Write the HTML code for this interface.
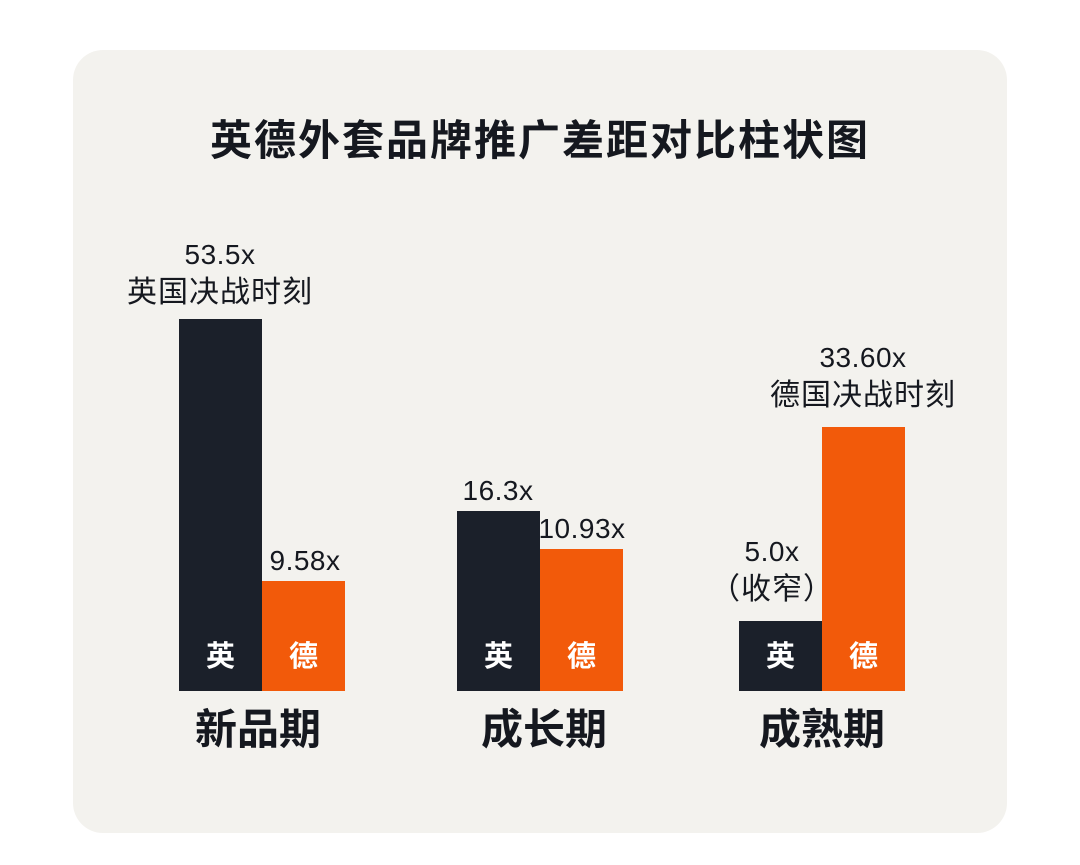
<!DOCTYPE html>
<html><head><meta charset="utf-8"><style>
body{margin:0;width:1080px;height:865px;background:#fff;position:relative;overflow:hidden;font-family:"Liberation Sans","Noto Sans CJK SC",sans-serif;}
.card{position:absolute;left:73px;top:50px;width:934px;height:783px;background:#f3f2ee;border-radius:30px;}
.t{position:absolute;text-align:center;white-space:nowrap;color:#15181f;}
.bar{position:absolute;}
.d{background:#1b202a}.o{background:#f25a0a}
.in{position:absolute;width:83px;text-align:center;color:#fff;font-weight:bold;font-size:29px;top:637px;line-height:40px;}
.v{font-size:28px;line-height:38px;letter-spacing:0.5px;}
.v span{font-size:30px;letter-spacing:1px;}
.cat{font-size:42px;font-weight:bold;top:704px;line-height:52px;}
</style></head><body>
<div class="card"></div>
<div class="t" style="left:0;width:1080px;top:113px;font-size:42px;font-weight:bold;line-height:56px;letter-spacing:2px;">英德外套品牌推广差距对比柱状图</div>

<div class="bar d" style="left:179px;top:319px;width:83px;height:372px"></div>
<div class="bar o" style="left:262px;top:581px;width:83px;height:110px"></div>
<div class="bar d" style="left:457px;top:511px;width:83px;height:180px"></div>
<div class="bar o" style="left:540px;top:549px;width:83px;height:142px"></div>
<div class="bar d" style="left:739px;top:621px;width:83px;height:70px"></div>
<div class="bar o" style="left:822px;top:427px;width:83px;height:264px"></div>

<div class="in" style="left:179px">英</div><div class="in" style="left:262px">德</div>
<div class="in" style="left:457px">英</div><div class="in" style="left:540px">德</div>
<div class="in" style="left:739px">英</div><div class="in" style="left:822px">德</div>

<div class="t v" style="left:120px;width:200px;top:236px">53.5x<br><span>英国决战时刻</span></div>
<div class="t v" style="left:205px;width:200px;top:542px">9.58x</div>
<div class="t v" style="left:398px;width:200px;top:472px">16.3x</div>
<div class="t v" style="left:482px;width:200px;top:510px">10.93x</div>
<div class="t v" style="left:672px;width:200px;top:533px">5.0x<br><span>（收窄）</span></div>
<div class="t v" style="left:763px;width:200px;top:339px">33.60x<br><span>德国决战时刻</span></div>

<div class="t cat" style="left:158px;width:200px">新品期</div>
<div class="t cat" style="left:444px;width:200px">成长期</div>
<div class="t cat" style="left:722px;width:200px">成熟期</div>
</body></html>
